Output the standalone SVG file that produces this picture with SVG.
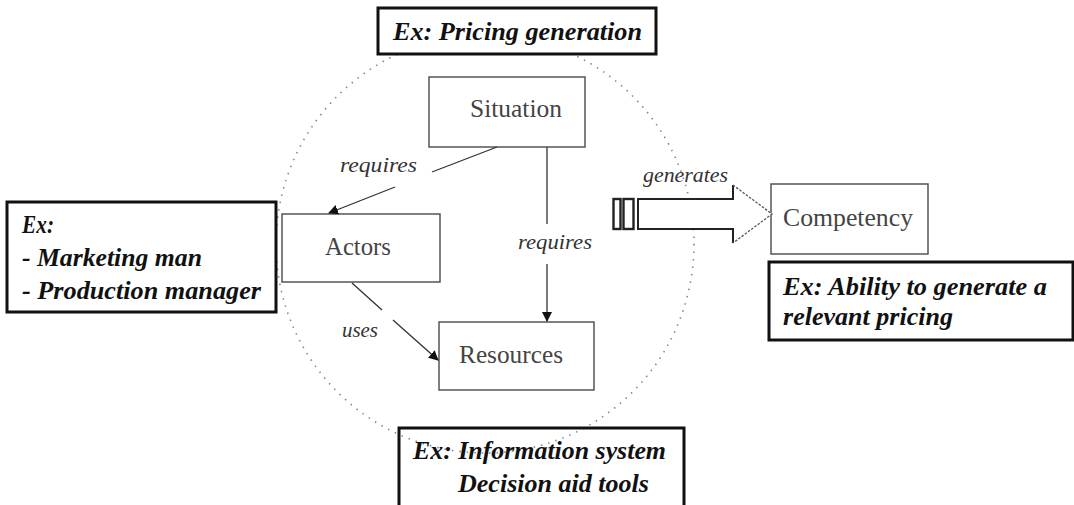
<svg xmlns="http://www.w3.org/2000/svg" width="1074" height="505" viewBox="0 0 1074 505">
<style>
.node{fill:#fff;stroke:#555;stroke-width:1.5}
.ex{fill:#fff;stroke:#111;stroke-width:3}
.nt{font-family:"Liberation Serif",serif;font-size:25px;fill:#444}
.et{font-family:"Liberation Serif",serif;font-size:25px;font-weight:bold;font-style:italic;fill:#111}
.lb{font-family:"Liberation Serif",serif;font-size:22px;font-style:italic;fill:#333}
.ln{stroke:#333;stroke-width:1.3;fill:none}
</style>
<defs>
<marker id="ah" viewBox="0 0 10 10" refX="9" refY="5" markerWidth="10" markerHeight="10" markerUnits="userSpaceOnUse" orient="auto">
<path d="M0,0 L10,5 L0,10 z" fill="#111"/>
</marker>
</defs>
<rect width="1074" height="505" fill="#fff"/>
<circle id="scope" cx="485" cy="244" r="209" fill="none" stroke="#888" stroke-width="1.6" stroke-dasharray="1.5 6"/>
<g id="ex-pricing">
<rect class="ex" x="378" y="8" width="278" height="46"/>
<text class="et" x="393" y="40" textLength="249" lengthAdjust="spacingAndGlyphs">Ex: Pricing generation</text>
</g>
<g id="situation">
<rect class="node" x="429" y="77" width="156" height="70"/>
<text class="nt" x="470" y="117" textLength="92" lengthAdjust="spacingAndGlyphs">Situation</text>
</g>
<g id="actors">
<rect class="node" x="282" y="214" width="158" height="68"/>
<text class="nt" x="325" y="255" textLength="66" lengthAdjust="spacingAndGlyphs">Actors</text>
</g>
<g id="resources">
<rect class="node" x="439" y="322" width="155" height="68"/>
<text class="nt" x="459" y="363" textLength="104" lengthAdjust="spacingAndGlyphs">Resources</text>
</g>
<g id="competency">
<rect class="node" x="771" y="184" width="157" height="70"/>
<text class="nt" x="783" y="226" textLength="130" lengthAdjust="spacingAndGlyphs">Competency</text>
</g>
<g id="ex-actors">
<rect class="ex" x="7" y="202" width="269" height="110"/>
<text class="et" x="22" y="233" textLength="32" lengthAdjust="spacingAndGlyphs">Ex:</text>
<text class="et" x="22" y="266" textLength="180" lengthAdjust="spacingAndGlyphs">- Marketing man</text>
<text class="et" x="22" y="299" textLength="239" lengthAdjust="spacingAndGlyphs">- Production manager</text>
</g>
<g id="ex-competency">
<rect class="ex" x="769" y="262" width="304" height="78"/>
<text class="et" x="783" y="295" textLength="264" lengthAdjust="spacingAndGlyphs">Ex: Ability to generate a</text>
<text class="et" x="783" y="325" textLength="170" lengthAdjust="spacingAndGlyphs">relevant pricing</text>
</g>
<g id="ex-resources">
<rect class="ex" x="399" y="428" width="285" height="90" style="fill:none"/>
<text class="et" x="413" y="459" textLength="253" lengthAdjust="spacingAndGlyphs">Ex: Information system</text>
<text class="et" x="458" y="492" textLength="191" lengthAdjust="spacingAndGlyphs">Decision aid tools</text>
</g>
<g id="connectors">
<line class="ln" x1="497" y1="147" x2="432" y2="172"/>
<line class="ln" x1="395" y1="187" x2="329" y2="213" marker-end="url(#ah)"/>
<text class="lb" x="340" y="172" textLength="77" lengthAdjust="spacingAndGlyphs">requires</text>
<line class="ln" x1="547" y1="147" x2="547" y2="224"/>
<line class="ln" x1="547" y1="264" x2="547" y2="321" marker-end="url(#ah)"/>
<text class="lb" x="518" y="249" textLength="74" lengthAdjust="spacingAndGlyphs">requires</text>
<line class="ln" x1="352" y1="283" x2="382" y2="310"/>
<line class="ln" x1="393" y1="320" x2="438" y2="360" marker-end="url(#ah)"/>
<text class="lb" x="342" y="337" font-size="18" textLength="36" lengthAdjust="spacingAndGlyphs">uses</text>
<g id="generates-arrow">
<rect x="613.5" y="199" width="7" height="30" fill="#fff" stroke="#222" stroke-width="2.4"/>
<rect x="623.5" y="199" width="10" height="30" fill="#fff" stroke="#222" stroke-width="2.4"/>
<path d="M733,185 L772,214 L733,243 Z" fill="#fff" stroke="none"/>
<path d="M733,185 L733,199 L638,199 L638,229 L733,229 L733,243" fill="#fff" stroke="#222" stroke-width="2"/>
<path d="M733,185 L772,214 L733,243" fill="none" stroke="#555" stroke-width="1.3" stroke-dasharray="2.5 1.5"/>
<rect x="734" y="200.5" width="6" height="27" fill="#fff"/>
</g>
<text class="lb" x="643" y="182" textLength="85" lengthAdjust="spacingAndGlyphs">generates</text>
</g>
</svg>
